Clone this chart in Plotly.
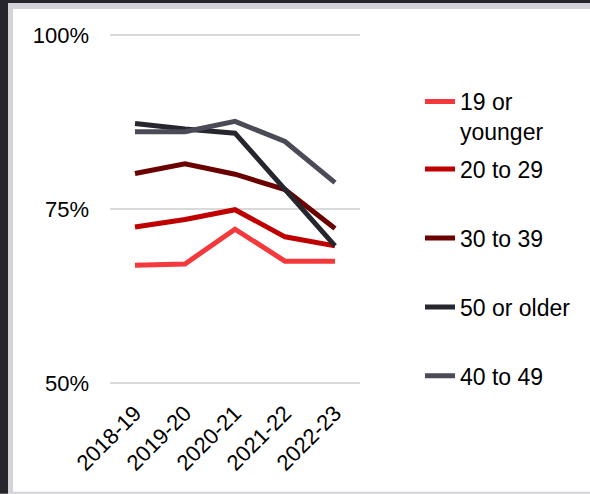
import plotly.graph_objects as go

years = ["2018-19", "2019-20", "2020-21", "2021-22", "2022-23"]

age_19_or_younger = [0.669, 0.671, 0.721, 0.675, 0.675]
age_20_to_29 = [0.724, 0.735, 0.749, 0.710, 0.697]
age_30_to_39 = [0.801, 0.815, 0.800, 0.778, 0.722]
age_50_or_older = [0.873, 0.865, 0.859, 0.779, 0.697]
age_40_to_49 = [0.861, 0.861, 0.876, 0.847, 0.788]

series_names = ["19 or<br>younger", "20 to 29", "30 to 39", "50 or older", "40 to 49"]
series_values = [age_19_or_younger, age_20_to_29, age_30_to_39, age_50_or_older, age_40_to_49]
series_colors = ["#f4383c", "#c00000", "#6b0000", "#26262e", "#4b4b57"]

y_ticks = [0.5, 0.75, 1.0]
y_tick_labels = ["50%", "75%", "100%"]

# pixel geometry (50% at y=383, 100% at y=35; x plot area 110..360)
W, H = 590, 494
L, R = 110, 360
Y_LO, Y_HI = 0.497, 1.003
SCALE = (383 - 35) / 0.5
T = 35 - (Y_HI - 1.0) * SCALE
B = 383 + (0.5 - Y_LO) * SCALE

def px_x(p):
    return (p - L) / (R - L)

def px_y(p):
    return (B - p) / (B - T)

legend_centers = [100, 169, 238, 307, 376]
legend_keys = ["legend", "legend2", "legend3", "legend4", "legend5"]

fig = go.Figure()
for name, vals, col, lk in zip(series_names, series_values, series_colors, legend_keys):
    fig.add_trace(go.Scatter(
        x=years, y=vals, mode="lines", name=name,
        line=dict(color=col, width=5),
        legend=lk,
    ))

font = dict(family="Liberation Sans, Arial, sans-serif", size=22, color="#000000")
legend_font = dict(family="Liberation Sans, Arial, sans-serif", size=23, color="#000000")

layout_legends = {}
for i, (lk, cy) in enumerate(zip(legend_keys, legend_centers)):
    if i == 0:
        layout_legends[lk] = dict(
            x=px_x(420), xanchor="left",
            y=px_y(cy - 20), yanchor="top",
            valign="top",
            font=legend_font, bgcolor="rgba(0,0,0,0)",
        )
    else:
        layout_legends[lk] = dict(
            x=px_x(420), xanchor="left",
            y=px_y(cy), yanchor="middle",
            font=legend_font, bgcolor="rgba(0,0,0,0)",
        )

dark = "#25252b"
grey = "#d3d3d9"

def rect(x0, y0, x1, y1, color):
    return dict(type="rect", xref="paper", yref="paper",
                x0=px_x(x0), x1=px_x(x1), y0=px_y(y0), y1=px_y(y1),
                fillcolor=color, line=dict(width=0), layer="above")

shapes = [
    rect(0, 0, W, 3, dark),
    rect(0, 0, 8, H, dark),
    rect(8, 3, W, 9, grey),
    rect(8, 3, 13, H, grey),
    rect(13, 492, W, H, grey),
]

fig.update_layout(
    width=W, height=H,
    margin=dict(l=L, r=W - R, t=T, b=H - B, pad=0),
    paper_bgcolor="#ffffff",
    plot_bgcolor="rgba(0,0,0,0)",
    font=font,
    showlegend=True,
    shapes=shapes,
    **layout_legends,
)

fig.update_xaxes(
    type="category", range=[-0.5, 4.5],
    showgrid=False, showline=False, zeroline=False,
    tickangle=-45, tickfont=font, ticks="", ticklabelstandoff=10,
)
fig.update_yaxes(
    range=[Y_LO, Y_HI],
    tickvals=y_ticks, ticktext=y_tick_labels,
    showgrid=True, gridcolor="#d9d9d9", gridwidth=2,
    showline=False, zeroline=False,
    tickfont=font, ticks="", ticklabelstandoff=20,
)

fig.write_html("out.html", config={"displayModeBar": False},
               post_script="document.body.style.margin='0';")
